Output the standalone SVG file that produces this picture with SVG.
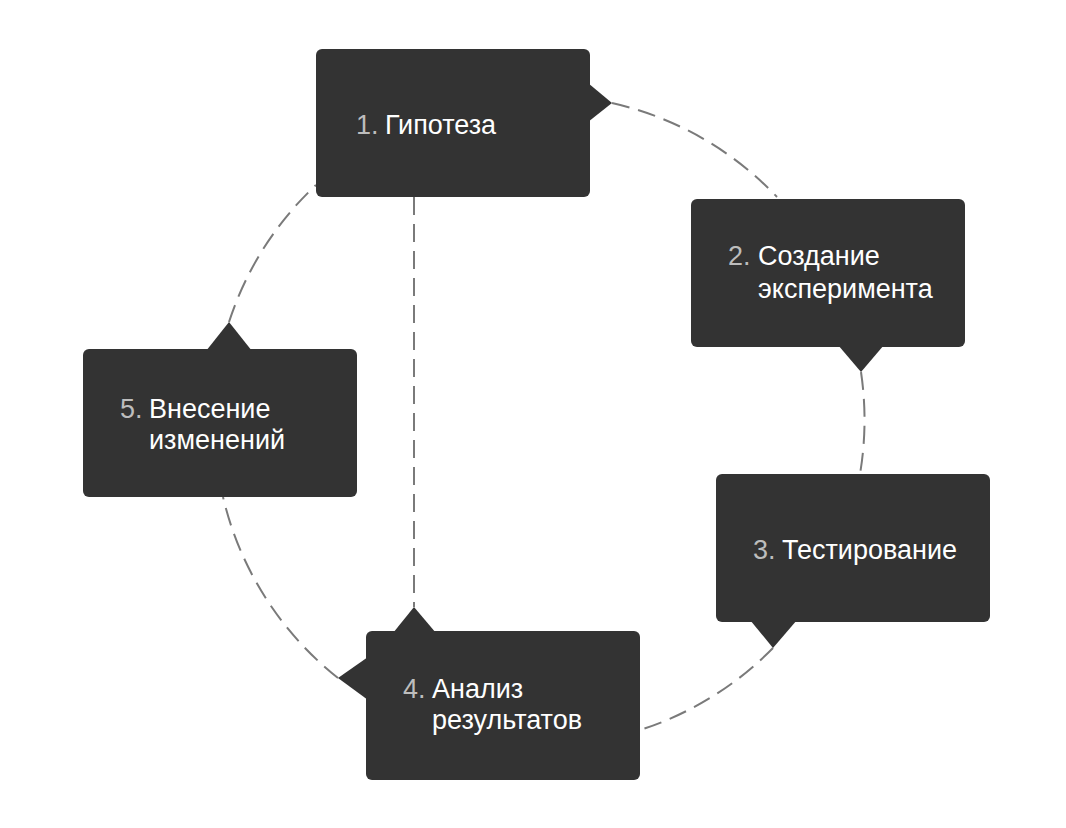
<svg xmlns="http://www.w3.org/2000/svg" width="1066" height="828" viewBox="0 0 1066 828">
  <style>
    .box { fill: #333333; }
    .conn { fill: none; stroke: #7a7a7a; stroke-width: 2; stroke-dasharray: 18 9; }
    .t { font-family: "Liberation Sans", Arial, Helvetica, sans-serif; font-size: 27px; fill: #ffffff; }
    .n { fill: #bdbdbd; }
  </style>
  <rect width="1066" height="828" fill="#ffffff"/>
  <g id="connectors">
    <path class="conn" d="M612,103 A326,326 0 0 1 777,197"/>
    <path class="conn" d="M861,372 A326,326 0 0 1 860,474"/>
    <path class="conn" d="M773,648 A326,326 0 0 1 640,730"/>
    <path class="conn" d="M338,678 A326,326 0 0 1 223,497"/>
    <path class="conn" d="M229,322 A326,326 0 0 1 316,185"/>
    <path class="conn" d="M414,197 L414,607"/>
  </g>
  <g id="node1">
    <rect class="box" x="316" y="49" width="274" height="148" rx="6"/>
    <polygon class="box" points="588,83 612,103 588,122"/>
    <text class="t" y="134"><tspan class="n" x="356">1.</tspan><tspan x="385">Гипотеза</tspan></text>
  </g>
  <g id="node2">
    <rect class="box" x="691" y="199" width="274" height="148" rx="6"/>
    <polygon class="box" points="838,345 861,372 884,345"/>
    <text class="t" y="265"><tspan class="n" x="728">2.</tspan><tspan x="758">Создание</tspan></text>
    <text class="t" x="758" y="298">эксперимента</text>
  </g>
  <g id="node3">
    <rect class="box" x="716" y="474" width="274" height="148" rx="6"/>
    <polygon class="box" points="750,620 773,648 797,620"/>
    <text class="t" y="559"><tspan class="n" x="753">3.</tspan><tspan x="782">Тестирование</tspan></text>
  </g>
  <g id="node4">
    <rect class="box" x="366" y="631" width="274" height="149" rx="6"/>
    <polygon class="box" points="393,633 414,607 436,633"/>
    <polygon class="box" points="368,657 338,678 368,700"/>
    <text class="t" y="698"><tspan class="n" x="403">4.</tspan><tspan x="432">Анализ</tspan></text>
    <text class="t" x="432" y="729">результатов</text>
  </g>
  <g id="node5">
    <rect class="box" x="83" y="349" width="274" height="148" rx="6"/>
    <polygon class="box" points="206,351 229,322 252,351"/>
    <text class="t" y="418"><tspan class="n" x="120">5.</tspan><tspan x="149">Внесение</tspan></text>
    <text class="t" x="149" y="449">изменений</text>
  </g>
</svg>
